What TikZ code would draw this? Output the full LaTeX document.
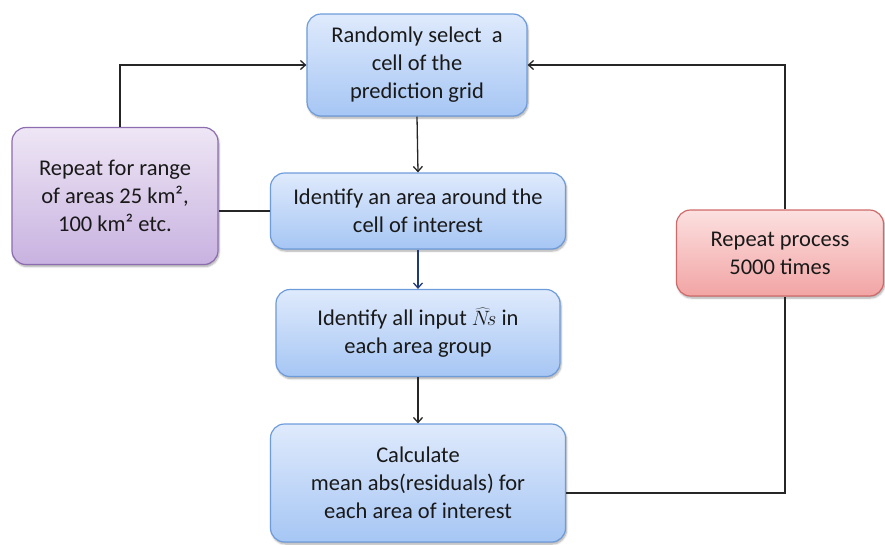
\documentclass[tikz,border=0pt]{standalone}
\usepackage{fontspec}
\setmainfont{Carlito}
\usetikzlibrary{arrows.meta,shadows.blur}
\definecolor{bluetop}{HTML}{DFEAFC}
\definecolor{bluebot}{HTML}{A6C6F4}
\definecolor{blueedge}{HTML}{6E9CDB}
\definecolor{purtop}{HTML}{EEE6F5}
\definecolor{purbot}{HTML}{C8B2E0}
\definecolor{puredge}{HTML}{8D6DB0}
\definecolor{redtop}{HTML}{FCE0E0}
\definecolor{redbot}{HTML}{F2A4A4}
\definecolor{rededge}{HTML}{CF6A6A}
\definecolor{darkarrow}{HTML}{1F3A78}
\tikzset{
  box/.style={rounded corners=14pt, line width=1.2pt, align=center,
    inner sep=0pt, font=\fontsize{22.5pt}{28pt}\selectfont, text=black!90,
    blur shadow={shadow xshift=1pt, shadow yshift=-2pt, shadow blur steps=6, shadow opacity=35}},
  bluebox/.style={box, draw=blueedge, top color=bluetop, bottom color=bluebot},
  purbox/.style={box, draw=puredge, top color=purtop, bottom color=purbot},
  redbox/.style={box, draw=rededge, top color=redtop, bottom color=redbot},
  conn/.style={line width=1.3pt, draw=black!85},
  arr/.style={conn, -{Straight Barb[length=5pt,width=9pt]}}
}
\begin{document}
\begin{tikzpicture}[x=1pt,y=-1pt]
\useasboundingbox (0,0) rectangle (885,544);
\node[bluebox, minimum width=220pt, minimum height=102pt] (b1) at (417,65)
  {Randomly select\ \ a\\ cell of the\\ prediction grid};
\node[bluebox, minimum width=295pt, minimum height=76pt] (b2) at (418,211)
  {Identify an area around the\\ cell of interest};
\node[bluebox, minimum width=284pt, minimum height=87pt] (b3) at (418,333)
  {Identify all input $\widehat{N}\!s$ in\\ each area group};
\node[bluebox, minimum width=295pt, minimum height=118pt] (b4) at (418,483)
  {Calculate\\ mean abs(residuals) for\\ each area of interest};
\node[purbox, minimum width=206pt, minimum height=137pt] (p) at (115,196)
  {Repeat for range\\ of areas 25 km²,\\ 100 km² etc.};
\node[redbox, minimum width=207pt, minimum height=86pt] (r) at (780,253)
  {Repeat process\\ 5000 times};
\draw[arr] (b1.south) -- (b2.north);
\draw[arr, draw=darkarrow] (b2.south) -- (b3.north);
\draw[arr] (b3.south) -- (b4.north);
\draw[conn] (b2.west) -- (p.east |- b2.west);
\draw[arr] (p.north) ++(5pt,0) coordinate (pn) -- (pn |- b1.west) -- (b1.west);
\coordinate (c1) at (785,493);
\draw[conn] (b4.east |- c1) -- (c1) -- (c1 |- r.south);
\draw[arr] (r.north -| c1) coordinate (rn) -- (rn |- b1.east) -- (b1.east);
\end{tikzpicture}
\end{document}
